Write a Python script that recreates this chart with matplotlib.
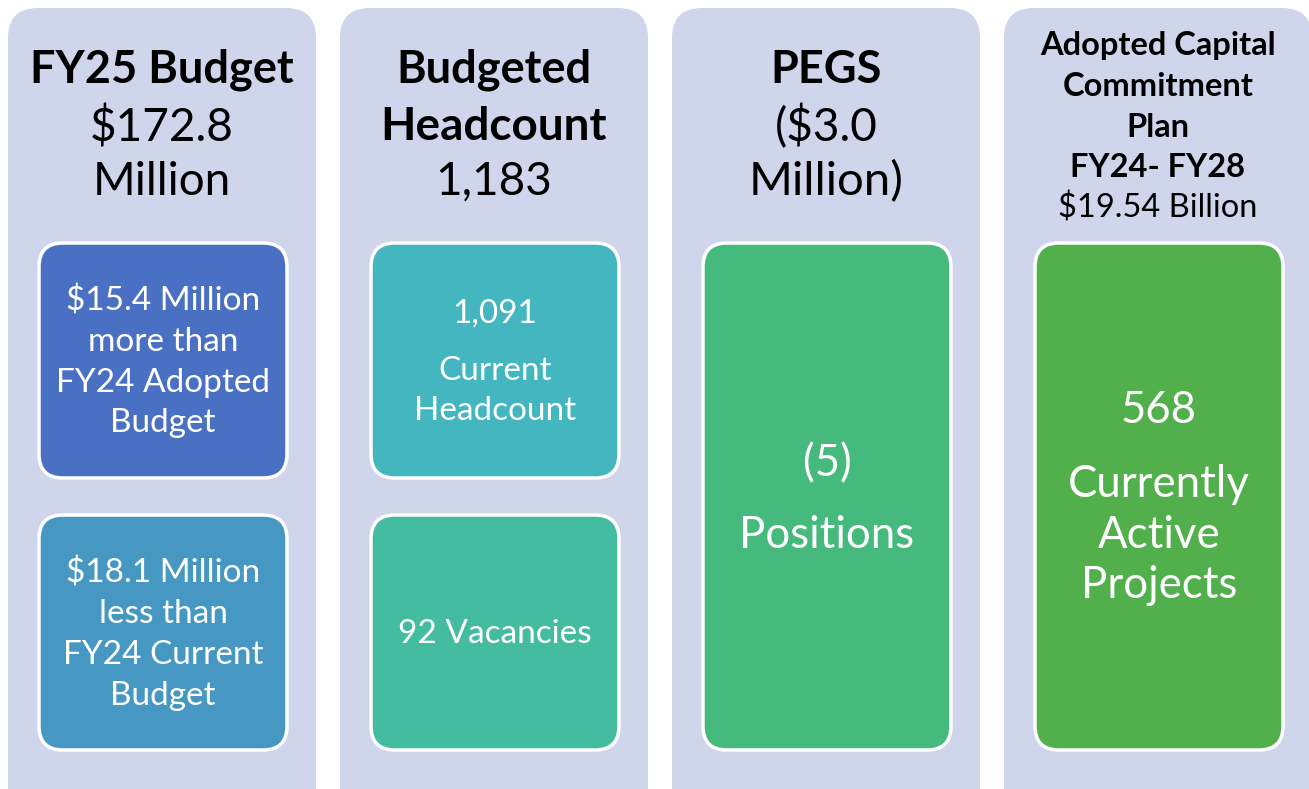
import matplotlib.pyplot as plt
from matplotlib.patches import FancyBboxPatch

plt.rcParams['font.family'] = ['Lato', 'DejaVu Sans']

# column headers: (text, bold, size)
headers = [
    [('FY25 Budget', True, 32.5), ('$172.8', False, 33), ('Million', False, 33)],
    [('Budgeted', True, 32.5), ('Headcount', True, 33), ('1,183', False, 33)],
    [('PEGS', True, 32.5), ('($3.0', False, 33), ('Million)', False, 34)],
    [('Adopted Capital', True, 23.5), ('Commitment', True, 23.5), ('Plan', True, 23.5),
     ('FY24- FY28', True, 23.5), ('$19.54 Billion', False, 23.5)],
]
header_y = [[68, 125, 180], [68, 125, 180], [68, 125, 180], [43, 84, 125, 165, 206]]

# inner boxes: column, top, bottom, colour, lines, line y, size
boxes = [
    (0, 243, 478, '#4A70C4', ['$15.4 Million', 'more than', 'FY24 Adopted', 'Budget'],
     [299, 340, 381, 421], 24),
    (0, 515, 750, '#4697C2', ['$18.1 Million', 'less than', 'FY24 Current', 'Budget'],
     [571, 612, 653, 694], 24),
    (1, 243, 478, '#43B6C0', ['1,091', 'Current', 'Headcount'], [312, 369, 409], 24),
    (1, 515, 750, '#44BC9F', ['92 Vacancies'], [632], 24),
    (2, 243, 750, '#46B97C', ['(5)', 'Positions'], [462, 533], 31.5),
    (3, 243, 750, '#52B04C', ['568', 'Currently', 'Active', 'Projects'],
     [408, 482, 533, 584], 31.5),
]

col_x = [8, 340, 672, 1004]
col_w = 308
W, H = 1309, 789
dy = 2  # small nudge so text sits like the original

fig = plt.figure(figsize=(13.09, 7.89), dpi=100)
ax = fig.add_axes([0, 0, 1, 1])
ax.set_xlim(0, W)
ax.set_ylim(H, 0)
ax.axis('off')

for i, x0 in enumerate(col_x):
    ax.add_patch(FancyBboxPatch((x0 + 30, 8 + 30), col_w - 60, 820 - 60,
                                boxstyle='round,pad=30', fc='#CFD5EA', ec='none'))
    cx = x0 + col_w / 2
    for (txt, bold, size), y in zip(headers[i], header_y[i]):
        ax.text(cx, y + dy, txt, ha='center', va='center', fontsize=size,
                fontweight='bold' if bold else 'normal', color='black')

for col, top, bot, color, lines, ys, size in boxes:
    x0 = col_x[col] + 31
    w = 248
    r = 24
    ax.add_patch(FancyBboxPatch((x0 + r, top + r), w - 2 * r, bot - top - 2 * r,
                                boxstyle='round,pad=%d' % r, fc=color, ec='white', lw=2.5))
    cx = x0 + w / 2
    for txt, y in zip(lines, ys):
        ax.text(cx, y + dy, txt, ha='center', va='center', fontsize=size, color='white')

fig.savefig('out.png', dpi=100)
